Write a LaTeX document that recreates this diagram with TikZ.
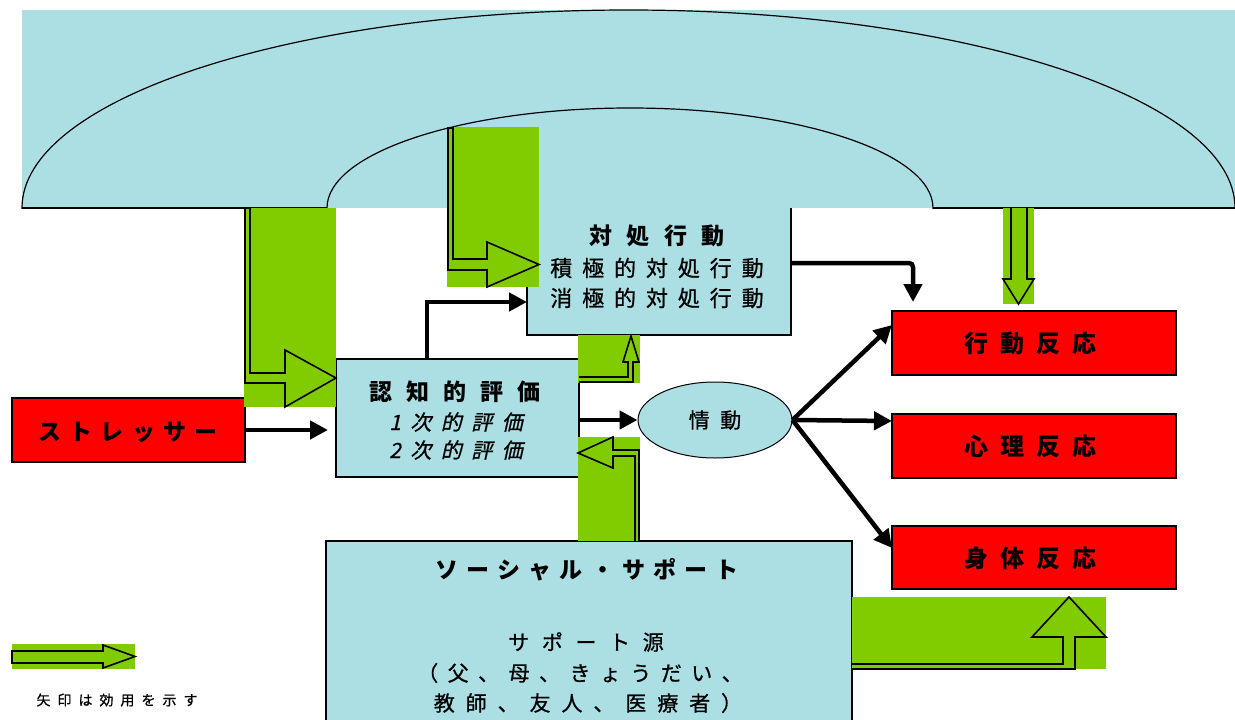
\documentclass[tikz,border=0pt]{standalone}
\usepackage{fontspec}
\setmainfont{Noto Sans CJK JP}
\newfontfamily\jpreg[FakeBold=0.8]{Noto Sans CJK JP}
\newfontfamily\jpit[FakeSlant=0.22,FakeBold=0.8]{Noto Sans CJK JP}
\usetikzlibrary{arrows.meta,calc,shapes.geometric}
\definecolor{lblue}{RGB}{172,223,228}
\definecolor{lgreen}{RGB}{128,204,0}
\definecolor{bred}{RGB}{255,0,0}
\newcommand\spc[2]{\def\spcamt{#1}\spcfirst#2\relax}
\def\spcfirst#1{#1\spcnext}
\def\spcnext#1{\ifx#1\relax\else\hspace{\spcamt}#1\expandafter\spcnext\fi}
\begin{document}
\begin{tikzpicture}[x=1pt,y=-1pt,
  box/.style={draw=black,line width=2pt,inner sep=0pt,outer sep=0pt,anchor=north west},
  bluebox/.style={box,fill=lblue},
  redbox/.style={box,fill=bred},
  txt/.style={inner sep=0pt,text=black},
  hb/.style={txt,font=\fontsize{23pt}{23pt}\selectfont\bfseries},
  rb/.style={txt,font=\fontsize{24pt}{24pt}\selectfont\bfseries},
  nt/.style={txt,font=\jpreg\fontsize{21pt}{21pt}\selectfont},
  it/.style={txt,font=\jpit\fontsize{21pt}{21pt}\selectfont},
  arr/.style={line width=4.5pt,-{Triangle[length=18pt,width=18pt]}},
  garrow/.style={draw=black,line width=1.6pt,line join=miter}
]
\useasboundingbox (0,0) rectangle (1235,720);
\fill[white] (0,0) rectangle (1235,720);

% top band with arch
\fill[lblue] (22,10) rectangle (1235,208);
\begin{scope}
  \clip (0,0) rectangle (1235,208);
  \draw[line width=1.2pt] (628.5,208) ellipse [x radius=606.5pt, y radius=198pt];
  \draw[line width=1.2pt] (630,208) ellipse [x radius=303pt, y radius=100pt];
\end{scope}
\draw[line width=2pt] (22,208) -- (327,208) (933,208) -- (1235,208);

% boxes
\node[bluebox,draw=none,minimum width=264pt,minimum height=127pt] (taisho) at (527,208) {};
\draw[line width=2pt] (taisho.north west) -- (taisho.south west) -- (taisho.south east) -- (taisho.north east);
\node[bluebox,minimum width=243pt,minimum height=118pt] (ninchi) at (336,359) {};
\node[redbox,minimum width=233pt,minimum height=64pt] (stress) at (12,398) {};
\node[draw,line width=1pt,fill=lblue,ellipse,minimum width=154pt,minimum height=76pt,inner sep=0pt] (jodo) at (715,420) {};
\node[redbox,minimum width=284pt,minimum height=64pt] (kodo) at (892,311) {};
\node[redbox,minimum width=284pt,minimum height=64pt] (shinri) at (892,414) {};
\node[redbox,minimum width=284pt,minimum height=63pt] (shintai) at (892,526) {};
\node[bluebox,minimum width=526pt,minimum height=185pt] (social) at (326,541) {};

% texts
\node[hb] (t1) at (657,236) {\spc{.62em}{対処行動}};
\node[nt,font=\jpreg\fontsize{22pt}{22pt}\selectfont] (t2) at (657,268) {\spc{.45em}{積極的対処行動}};
\node[nt,font=\jpreg\fontsize{22pt}{22pt}\selectfont] (t3) at (657,298) {\spc{.45em}{消極的対処行動}};
\node[hb] (t4) at (455,392) {\spc{.6em}{認知的評価}};
\node[it] (t5) at (456,422) {\spc{.45em}{1次的評価}};
\node[it] (t6) at (456,450) {\spc{.45em}{2次的評価}};
\node[hb] (t7) at (128,432) {\spc{.35em}{ストレッサー}};
\node[nt] (t8) at (715,420) {\spc{.5em}{情動}};
\node[rb] (t9) at (1030,343) {\spc{.5em}{行動反応}};
\node[rb] (t10) at (1030,446) {\spc{.5em}{心理反応}};
\node[rb] (t11) at (1030,558) {\spc{.5em}{身体反応}};
\node[hb] (t12) at (587,570) {\spc{.35em}{ソーシャル・サポート}};
\node[nt] (t13) at (586,642) {\spc{.6em}{サポート源}};
\node[nt] (t14) at (580,673) {\spc{.45em}{（父、母、きょうだい、}};
\node[nt] (t15) at (588,703) {\spc{.52em}{教師、友人、医療者）}};
\node[txt,font=\jpreg\fontsize{14pt}{14pt}\selectfont] (t16) at (117,700) {\spc{.5em}{矢印は効用を示す}};

% black arrows
\draw[arr,shorten >=8pt] (stress.east) -- (stress.east -| ninchi.west);
\draw[arr] ($(ninchi.north west)+(91,0)$) |- ($(taisho.north west)+(0,94)$);
\draw[arr] (ninchi.east |- jodo.west) -- (jodo.west);
\draw[arr,rounded corners=4pt,shorten >=9pt] ($(taisho.north east)+(0,55)$) -| ($(kodo.north west)+(21,0)$);
\draw[arr] (jodo.east) -- ($(kodo.north west)+(0,14)$);
\draw[arr] (jodo.east) -- ($(shinri.north west)+(0,7)$);
\draw[arr] (jodo.east) -- ($(shintai.north west)+(0,22)$);

% green block arrows
\fill[lgreen] (244,208) rectangle (336,407);
\draw[garrow] (245,208) -- (245,383) -- (285,383) -- (285,407) -- (336,378) -- (285,350) -- (285,373) -- (250,373) -- (250,208) -- cycle;

\fill[lgreen] (447,127) rectangle (539,287);
\draw[garrow] (448,128) -- (448,270) -- (487,270) -- (487,287) -- (539,264.5) -- (487,242) -- (487,259) -- (453,259) -- (453,128) -- cycle;

\fill[lgreen] (578,335) rectangle (640,383);
\draw[garrow] (579,382) -- (633,382) -- (633,362) -- (639,362) -- (631,336) -- (623,362) -- (628,362) -- (628,377) -- (579,377);

\fill[lgreen] (578,437) rectangle (640,541);
\draw[garrow] (639,541) -- (639,450) -- (613,450) -- (613,437) -- (578,453) -- (613,468) -- (613,456) -- (635,456) -- (635,541);

\fill[lgreen] (1003,208) rectangle (1034,304);
\draw[garrow] (1011,208) -- (1011,279) -- (1003,279) -- (1018.5,304) -- (1034,279) -- (1027,279) -- (1027,208);

\fill[lgreen] (852,597) rectangle (1106,669);
\draw[garrow] (852,669) -- (1075,669) -- (1075,637) -- (1106,637) -- (1069,597) -- (1032,637) -- (1063,637) -- (1063,664) -- (852,664);

\fill[lgreen] (12,644) rectangle (135,669);
\draw[garrow] (12,651) -- (103,651) -- (103,645) -- (135,656.5) -- (103,668) -- (103,663) -- (12,663) -- cycle;
\end{tikzpicture}
\end{document}
